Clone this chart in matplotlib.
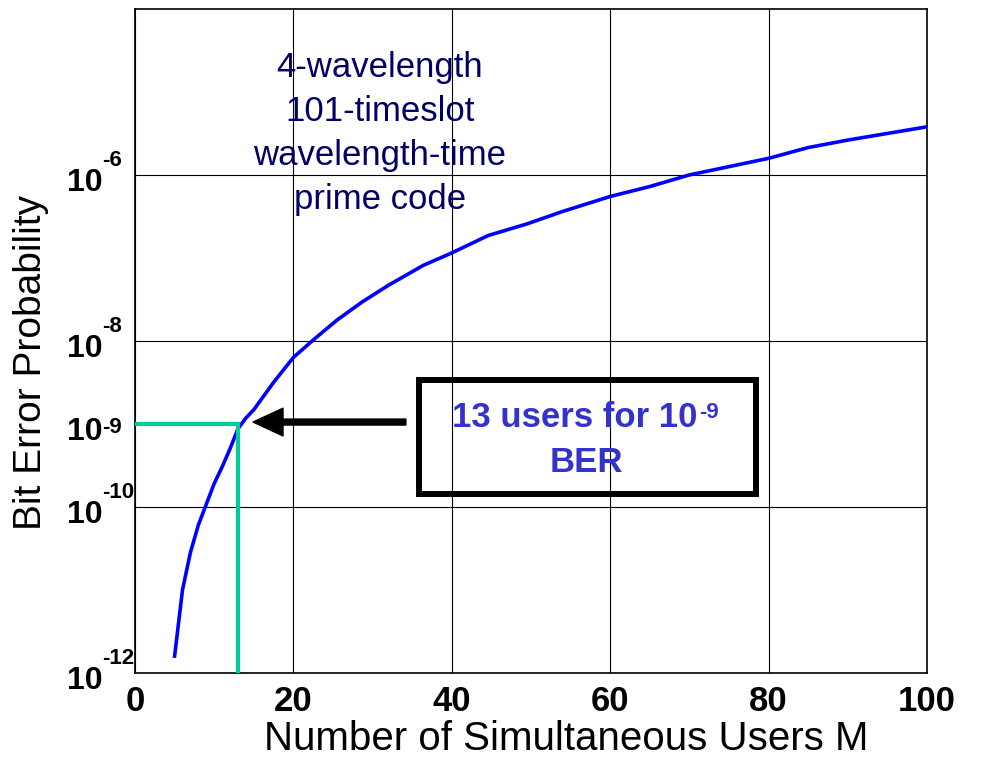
import numpy as np
import matplotlib
matplotlib.use("Agg")
import matplotlib.pyplot as plt
from matplotlib.ticker import FixedLocator, NullFormatter
from matplotlib.patches import Rectangle

plt.rcParams['font.family'] = ['Liberation Sans', 'DejaVu Sans']

# 误码率曲线（从图中读取，指数形式）
users = [5, 6, 7, 8, 9, 10, 11, 12, 13, 14, 15, 17.5, 20, 22.5, 25.5, 28.7, 32,
         36.4, 40, 44.6, 49.5, 54, 60, 65, 70, 76, 80, 85, 90, 95, 100]
ber_exp = [-11.8, -11.0, -10.55, -10.22, -9.97, -9.72, -9.52, -9.30, -9.06, -8.93,
           -8.83, -8.50, -8.20, -7.99, -7.75, -7.53, -7.33, -7.09, -6.94, -6.73,
           -6.59, -6.44, -6.26, -6.14, -6.00, -5.88, -5.80, -5.67, -5.58, -5.50, -5.42]

target_users = 13
target_ber = 1e-9

x_ticks = [0, 20, 40, 60, 80, 100]
y_grid = [1e-12, 1e-10, 1e-8, 1e-6]
y_label_exp = [-12, -10, -9, -8, -6]

code_text = ['4-wavelength', '101-timeslot', 'wavelength-time', 'prime code']
box_line1 = '13 users for 10'
box_sup = '-9'
box_line2 = 'BER'

ber = 10.0 ** np.array(ber_exp)

fig = plt.figure(figsize=(9.81, 7.57), dpi=100)
ax = fig.add_axes([135 / 981, 1 - 672.7 / 757, 792 / 981, 663.7 / 757])

ax.set_yscale('log')
ax.set_xlim(0, 100)
ax.set_ylim(1e-12, 1e-4)

# 曲线
ax.plot(users, ber, color='#0000FF', linewidth=2.6, zorder=3)

# 13 用户对应 1e-9 的辅助线
ax.plot([0, target_users], [target_ber, target_ber], color='#00CC99', linewidth=3, zorder=4)
ax.plot([target_users, target_users], [target_ber, 1e-12], color='#00CC99', linewidth=3, zorder=4)

# 坐标轴刻度
ax.xaxis.set_major_locator(FixedLocator(x_ticks))
ax.yaxis.set_major_locator(FixedLocator(y_grid))
ax.yaxis.set_minor_locator(FixedLocator([]))
ax.yaxis.set_major_formatter(NullFormatter())
ax.tick_params(axis='x', length=0, pad=9, labelsize=25)
ax.tick_params(axis='y', which='both', length=0)
for lab in ax.get_xticklabels():
    lab.set_fontweight('bold')

# y 轴刻度标签：10 加上标
ytr = ax.get_yaxis_transform()
for e in y_label_exp:
    ax.annotate('10', xy=(0, 10.0 ** e), xycoords=ytr, xytext=(-68, -16),
                textcoords='offset pixels', ha='left', va='baseline',
                fontsize=23, fontweight='bold', annotation_clip=False)
    sup_dy = -9 if e == -9 else 9
    ax.annotate(str(e), xy=(0, 10.0 ** e), xycoords=ytr, xytext=(-33, sup_dy),
                textcoords='offset pixels', ha='left', va='baseline',
                fontsize=16, fontweight='bold', annotation_clip=False)

ax.grid(True, which='major', color='black', linewidth=0.8)
for sp in ax.spines.values():
    sp.set_linewidth(1.2)

ax.set_xlabel('Number of Simultaneous Users M', fontsize=29)
ax.xaxis.set_label_coords(0.544, -0.071)
ax.set_ylabel('Bit Error Probability', fontsize=28)
ax.yaxis.set_label_coords(-0.108, 0.468)

# 码型说明
baselines = [76.7, 120.7, 164.7, 208.7]
for line, py in zip(code_text, baselines):
    ax.text(0.3093, (672.7 - py) / 663.7, line, transform=ax.transAxes,
            ha='center', va='baseline', fontsize=25, color='#000066')

# 标注框与箭头
ax.add_patch(Rectangle((0.3586, 0.2697), 0.7835 - 0.3586, 0.4415 - 0.2697,
                       transform=ax.transAxes, fill=False, edgecolor='black',
                       linewidth=4.3, zorder=5))
ax.text(0.7096, 0.3707, box_line1, transform=ax.transAxes, ha='right', va='baseline',
        fontsize=25, fontweight='bold', color='#3333CC', zorder=6)
ax.text(0.7121, 0.3838, box_sup, transform=ax.transAxes, ha='left', va='baseline',
        fontsize=16, fontweight='bold', color='#3333CC', zorder=6)
ax.text(0.5694, 0.3029, box_line2, transform=ax.transAxes, ha='center', va='baseline',
        fontsize=25, fontweight='bold', color='#3333CC', zorder=6)

ax.annotate('', xy=(14.9, 1.05e-9), xytext=(34.2, 1.05e-9),
            arrowprops=dict(facecolor='black', edgecolor='black', width=4.3,
                            headwidth=20, headlength=21.6, shrink=0),
            zorder=6)

fig.savefig('out.png', dpi=100)
